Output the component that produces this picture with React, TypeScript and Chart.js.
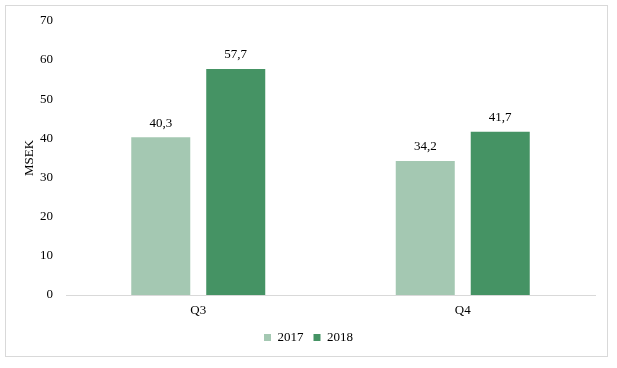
import React, { useEffect, useRef } from "react";
import { Chart, registerables } from "chart.js";

Chart.register(...registerables);

const categories = ["Q3", "Q4"];
const seriesLabels = ["2017", "2018"];
const values2017 = [40.3, 34.2];
const values2018 = [57.7, 41.7];
const yTicks = [0, 10, 20, 30, 40, 50, 60, 70];

const FONT = "'Liberation Serif', 'Times New Roman', serif";

const valueLabels = {
  id: "valueLabels",
  afterDatasetsDraw(chart: any) {
    const ctx = chart.ctx;
    ctx.save();
    ctx.font = `13px ${FONT}`;
    ctx.fillStyle = "#000";
    ctx.textAlign = "center";
    ctx.textBaseline = "middle";
    chart.data.datasets.forEach((ds: any, i: number) => {
      const meta = chart.getDatasetMeta(i);
      meta.data.forEach((el: any, j: number) => {
        const v = ds.data[j] as number;
        ctx.fillText(v.toFixed(1).replace(".", ","), el.x, el.y - 14);
      });
    });
    ctx.restore();
  },
};

export default function App() {
  const ref = useRef<HTMLCanvasElement | null>(null);
  useEffect(() => {
    if (!ref.current) return;
    const chart = new Chart(ref.current, {
      type: "bar",
      data: {
        labels: categories,
        datasets: [
          {
            label: seriesLabels[0],
            data: values2017,
            backgroundColor: "#a4c8b2",
            barPercentage: 0.787,
            categoryPercentage: 0.567,
          },
          {
            label: seriesLabels[1],
            data: values2018,
            backgroundColor: "#459364",
            barPercentage: 0.787,
            categoryPercentage: 0.567,
          },
        ],
      },
      options: {
        animation: false,
        responsive: false,
        maintainAspectRatio: false,
        layout: { padding: { left: 22, right: 22, top: 19, bottom: 14 } },
        plugins: {
          tooltip: { enabled: false },
          legend: {
            position: "bottom",
            labels: {
              boxWidth: 7,
              boxHeight: 7,
              padding: 10,
              color: "#000",
              font: { family: FONT, size: 13 },
            },
          },
        },
        scales: {
          x: {
            grid: { display: false, drawTicks: false },
            border: { display: true, color: "#d9d9d9", width: 1 },
            ticks: { color: "#000", padding: 8, font: { family: FONT, size: 13 } },
            afterFit(scale: any) {
              scale.height = 26;
            },
          },
          y: {
            min: 0,
            max: 70,
            afterBuildTicks(scale: any) {
              scale.ticks = yTicks.map((v) => ({ value: v }));
            },
            grid: { display: false, drawTicks: false },
            border: { display: false },
            ticks: { color: "#000", padding: 13, font: { family: FONT, size: 13 } },
            title: {
              display: true,
              text: "MSEK",
              color: "#000",
              padding: 0,
              font: { family: FONT, size: 13 },
            },
            afterFit(scale: any) {
              scale.width = 44;
            },
          },
        },
      },
      plugins: [valueLabels],
    } as any);
    return () => chart.destroy();
  }, []);
  return (
    <div style={{ position: "absolute", left: 0, top: 0, width: 617, height: 368, background: "#fff" }}>
      <div
        style={{
          position: "absolute",
          left: 5,
          top: 5,
          width: 601,
          height: 350,
          border: "1px solid #d9d9d9",
          boxSizing: "content-box",
        }}
      />
      <canvas ref={ref} width={617} height={368} style={{ position: "absolute", left: 0, top: 0, width: 617, height: 368 }} />
    </div>
  );
}
